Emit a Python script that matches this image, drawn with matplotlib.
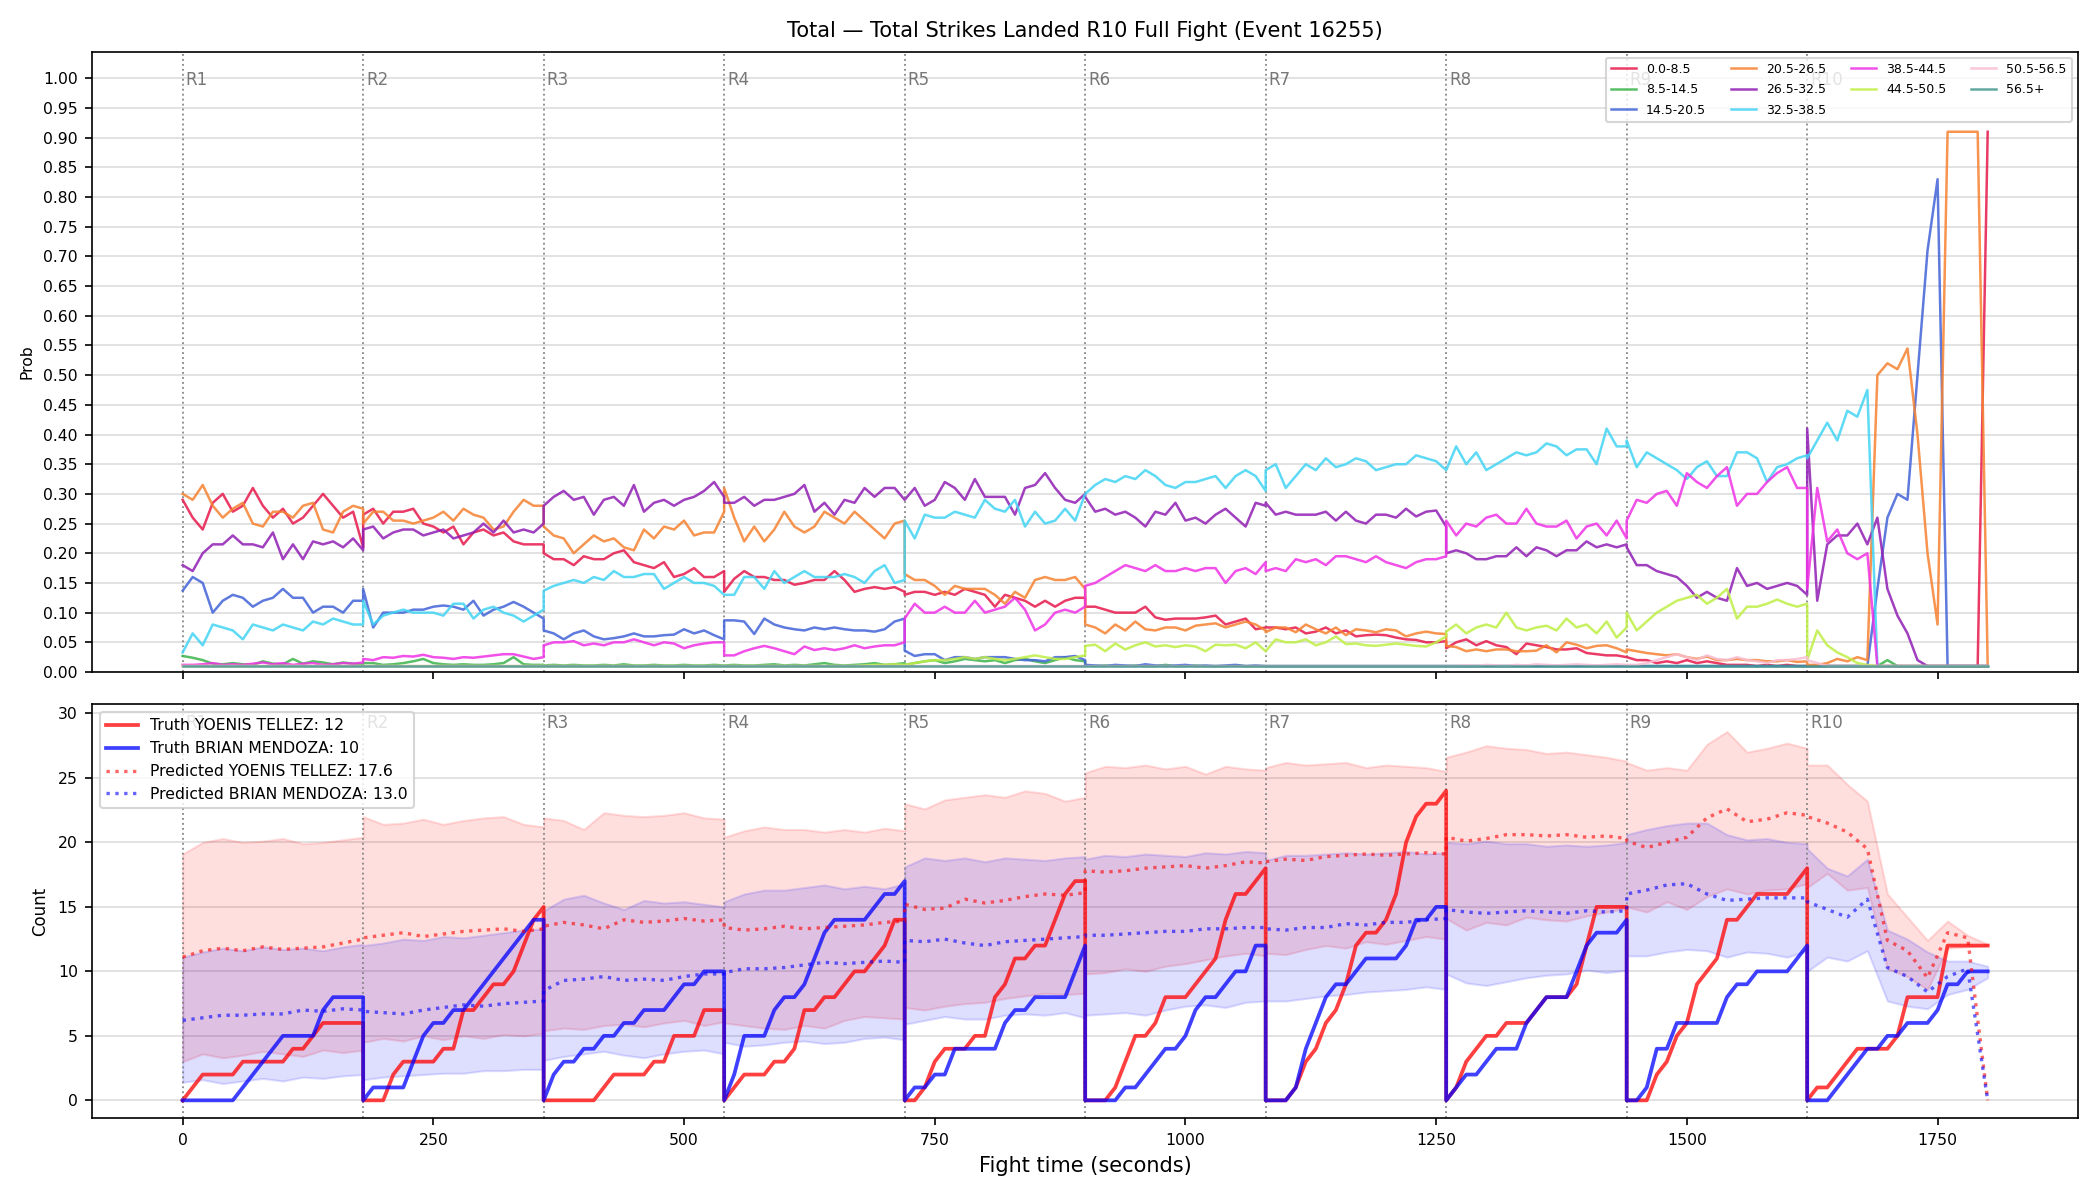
import numpy as np
import matplotlib
matplotlib.use("Agg")
import matplotlib.pyplot as plt

# rounds
round_starts = [0, 180, 360, 540, 720, 900, 1080, 1260, 1440, 1620]
round_names = ["R1", "R2", "R3", "R4", "R5", "R6", "R7", "R8", "R9", "R10"]
fine_steps = np.arange(0, 181, 10)     # top panel + truth samples inside a round
coarse_steps = np.arange(0, 181, 20)   # predicted / bands samples inside a round

F = [0.01] * 19  # flat floor row

# ---- top panel: probability per bucket, one row per round ----
p_0_8 = [
    [0.29, 0.26, 0.24, 0.285, 0.30, 0.27, 0.28, 0.31, 0.28, 0.26, 0.275, 0.25, 0.26, 0.28, 0.30, 0.28, 0.26, 0.27, 0.21],
    [0.265, 0.275, 0.25, 0.27, 0.27, 0.275, 0.25, 0.245, 0.235, 0.245, 0.215, 0.235, 0.24, 0.23, 0.235, 0.22, 0.215, 0.215, 0.215],
    [0.20, 0.19, 0.19, 0.18, 0.195, 0.19, 0.19, 0.20, 0.205, 0.185, 0.18, 0.175, 0.185, 0.16, 0.165, 0.175, 0.16, 0.16, 0.17],
    [0.135, 0.157, 0.17, 0.16, 0.16, 0.155, 0.155, 0.147, 0.15, 0.155, 0.155, 0.17, 0.155, 0.135, 0.14, 0.143, 0.14, 0.143, 0.135],
    [0.13, 0.135, 0.135, 0.13, 0.135, 0.13, 0.14, 0.135, 0.13, 0.11, 0.13, 0.125, 0.12, 0.11, 0.12, 0.11, 0.12, 0.125, 0.125],
    [0.11, 0.11, 0.105, 0.10, 0.10, 0.10, 0.11, 0.092, 0.088, 0.09, 0.09, 0.09, 0.092, 0.095, 0.08, 0.085, 0.09, 0.072, 0.075],
    [0.075, 0.075, 0.072, 0.075, 0.065, 0.068, 0.075, 0.065, 0.07, 0.06, 0.062, 0.063, 0.062, 0.058, 0.055, 0.054, 0.05, 0.05, 0.052],
    [0.04, 0.05, 0.055, 0.045, 0.052, 0.045, 0.042, 0.03, 0.048, 0.045, 0.042, 0.038, 0.038, 0.04, 0.032, 0.03, 0.028, 0.028, 0.025],
    [0.025, 0.02, 0.02, 0.015, 0.018, 0.015, 0.02, 0.015, 0.018, 0.015, 0.012, 0.012, 0.012, 0.01, 0.012, 0.01, 0.012, 0.01, 0.01],
    [0.01, 0.01, 0.01, 0.01, 0.01, 0.01, 0.01, 0.01, 0.01, 0.01, 0.01, 0.01, 0.01, 0.01, 0.01, 0.01, 0.01, 0.01, 0.91],
]
p_8_14 = [
    [0.027, 0.024, 0.02, 0.014, 0.013, 0.015, 0.013, 0.012, 0.018, 0.014, 0.013, 0.022, 0.014, 0.018, 0.016, 0.013, 0.016, 0.014, 0.013],
    [0.015, 0.015, 0.012, 0.013, 0.015, 0.018, 0.022, 0.015, 0.013, 0.012, 0.013, 0.012, 0.012, 0.013, 0.015, 0.025, 0.013, 0.012, 0.012],
    [0.011, 0.012, 0.011, 0.012, 0.011, 0.011, 0.012, 0.011, 0.013, 0.011, 0.011, 0.012, 0.011, 0.011, 0.012, 0.011, 0.011, 0.012, 0.011],
    [0.011, 0.012, 0.011, 0.011, 0.012, 0.013, 0.011, 0.012, 0.011, 0.013, 0.015, 0.012, 0.011, 0.012, 0.013, 0.015, 0.012, 0.013, 0.015],
    [0.012, 0.015, 0.018, 0.02, 0.015, 0.018, 0.022, 0.02, 0.018, 0.02, 0.015, 0.02, 0.022, 0.018, 0.015, 0.02, 0.025, 0.02, 0.018],
    [0.011, 0.01, 0.011, 0.01, 0.01, 0.011, 0.01, 0.01, 0.012, 0.01, 0.01, 0.011, 0.01, 0.01, 0.01, 0.011, 0.01, 0.01, 0.01],
    F, F, F,
    [0.01, 0.01, 0.01, 0.01, 0.01, 0.01, 0.01, 0.01, 0.02, 0.01, 0.01, 0.01, 0.01, 0.01, 0.01, 0.01, 0.01, 0.01, 0.01],
]
p_14_20 = [
    [0.137, 0.16, 0.15, 0.10, 0.12, 0.13, 0.125, 0.11, 0.12, 0.125, 0.14, 0.125, 0.125, 0.10, 0.11, 0.11, 0.10, 0.12, 0.12],
    [0.14, 0.075, 0.10, 0.10, 0.10, 0.105, 0.105, 0.11, 0.112, 0.11, 0.105, 0.12, 0.095, 0.105, 0.11, 0.118, 0.11, 0.10, 0.09],
    [0.07, 0.065, 0.055, 0.065, 0.07, 0.06, 0.055, 0.057, 0.06, 0.065, 0.06, 0.06, 0.062, 0.063, 0.072, 0.065, 0.07, 0.062, 0.055],
    [0.087, 0.087, 0.085, 0.064, 0.09, 0.08, 0.075, 0.072, 0.07, 0.075, 0.072, 0.075, 0.072, 0.07, 0.07, 0.068, 0.072, 0.085, 0.09],
    [0.036, 0.027, 0.03, 0.03, 0.02, 0.025, 0.025, 0.022, 0.025, 0.025, 0.025, 0.022, 0.02, 0.02, 0.018, 0.025, 0.025, 0.027, 0.02],
    [0.012, 0.011, 0.01, 0.012, 0.011, 0.01, 0.013, 0.011, 0.01, 0.011, 0.012, 0.01, 0.011, 0.01, 0.011, 0.012, 0.01, 0.011, 0.01],
    F, F, F,
    [0.01, 0.01, 0.01, 0.01, 0.01, 0.01, 0.01, 0.14, 0.26, 0.30, 0.29, 0.50, 0.71, 0.83, 0.01, 0.01, 0.01, 0.01, 0.01],
]
p_20_26 = [
    [0.30, 0.29, 0.315, 0.28, 0.26, 0.275, 0.285, 0.25, 0.245, 0.27, 0.27, 0.26, 0.28, 0.285, 0.24, 0.235, 0.27, 0.28, 0.275],
    [0.25, 0.27, 0.27, 0.255, 0.255, 0.25, 0.255, 0.26, 0.27, 0.255, 0.275, 0.265, 0.26, 0.24, 0.245, 0.27, 0.29, 0.28, 0.28],
    [0.245, 0.23, 0.225, 0.20, 0.215, 0.23, 0.22, 0.225, 0.21, 0.205, 0.24, 0.225, 0.245, 0.24, 0.255, 0.23, 0.235, 0.235, 0.27],
    [0.31, 0.26, 0.22, 0.245, 0.22, 0.24, 0.27, 0.245, 0.235, 0.245, 0.27, 0.26, 0.25, 0.27, 0.255, 0.24, 0.225, 0.25, 0.255],
    [0.165, 0.155, 0.155, 0.145, 0.13, 0.145, 0.14, 0.14, 0.14, 0.13, 0.115, 0.135, 0.125, 0.155, 0.16, 0.155, 0.155, 0.16, 0.14],
    [0.08, 0.075, 0.065, 0.08, 0.07, 0.085, 0.072, 0.07, 0.075, 0.075, 0.07, 0.078, 0.08, 0.082, 0.075, 0.08, 0.085, 0.08, 0.07],
    [0.067, 0.075, 0.075, 0.067, 0.08, 0.072, 0.065, 0.075, 0.062, 0.072, 0.07, 0.067, 0.072, 0.07, 0.06, 0.065, 0.068, 0.065, 0.064],
    [0.044, 0.042, 0.035, 0.038, 0.035, 0.038, 0.038, 0.035, 0.035, 0.036, 0.045, 0.033, 0.05, 0.046, 0.04, 0.044, 0.045, 0.04, 0.033],
    [0.038, 0.035, 0.032, 0.03, 0.028, 0.03, 0.025, 0.022, 0.026, 0.02, 0.02, 0.022, 0.02, 0.02, 0.018, 0.018, 0.02, 0.017, 0.018],
    [0.012, 0.012, 0.015, 0.022, 0.018, 0.025, 0.02, 0.50, 0.52, 0.51, 0.545, 0.40, 0.20, 0.08, 0.91, 0.91, 0.91, 0.91, 0.01],
]
p_26_32 = [
    [0.18, 0.17, 0.20, 0.215, 0.215, 0.23, 0.215, 0.215, 0.21, 0.235, 0.19, 0.215, 0.19, 0.22, 0.215, 0.22, 0.21, 0.225, 0.205],
    [0.24, 0.245, 0.225, 0.235, 0.24, 0.24, 0.23, 0.235, 0.24, 0.225, 0.23, 0.235, 0.25, 0.235, 0.255, 0.235, 0.24, 0.235, 0.25],
    [0.28, 0.295, 0.305, 0.29, 0.295, 0.265, 0.29, 0.295, 0.28, 0.315, 0.27, 0.285, 0.29, 0.28, 0.29, 0.295, 0.305, 0.32, 0.295],
    [0.285, 0.285, 0.295, 0.28, 0.29, 0.29, 0.295, 0.30, 0.315, 0.27, 0.285, 0.265, 0.29, 0.285, 0.31, 0.295, 0.31, 0.31, 0.29],
    [0.29, 0.31, 0.28, 0.29, 0.32, 0.31, 0.29, 0.325, 0.295, 0.295, 0.295, 0.265, 0.31, 0.315, 0.335, 0.31, 0.29, 0.285, 0.30],
    [0.295, 0.27, 0.275, 0.265, 0.27, 0.26, 0.245, 0.27, 0.265, 0.285, 0.255, 0.26, 0.25, 0.265, 0.275, 0.26, 0.245, 0.285, 0.28],
    [0.285, 0.265, 0.27, 0.265, 0.265, 0.265, 0.27, 0.255, 0.27, 0.255, 0.25, 0.265, 0.265, 0.26, 0.275, 0.262, 0.27, 0.272, 0.245],
    [0.20, 0.205, 0.20, 0.19, 0.19, 0.195, 0.195, 0.21, 0.195, 0.21, 0.205, 0.195, 0.205, 0.205, 0.22, 0.21, 0.215, 0.21, 0.215],
    [0.21, 0.18, 0.18, 0.17, 0.165, 0.16, 0.145, 0.125, 0.135, 0.125, 0.12, 0.175, 0.145, 0.15, 0.14, 0.145, 0.15, 0.145, 0.13],
    [0.41, 0.12, 0.215, 0.23, 0.23, 0.25, 0.215, 0.26, 0.14, 0.095, 0.065, 0.02, 0.01, 0.01, 0.01, 0.01, 0.01, 0.01, 0.01],
]
p_32_38 = [
    [0.033, 0.065, 0.045, 0.08, 0.075, 0.07, 0.055, 0.08, 0.075, 0.07, 0.08, 0.075, 0.07, 0.085, 0.08, 0.09, 0.085, 0.08, 0.08],
    [0.12, 0.08, 0.095, 0.10, 0.105, 0.10, 0.10, 0.10, 0.095, 0.115, 0.115, 0.09, 0.105, 0.11, 0.10, 0.095, 0.085, 0.095, 0.105],
    [0.137, 0.145, 0.15, 0.155, 0.15, 0.16, 0.155, 0.17, 0.16, 0.16, 0.165, 0.165, 0.14, 0.15, 0.16, 0.15, 0.15, 0.145, 0.13],
    [0.13, 0.13, 0.16, 0.16, 0.14, 0.17, 0.15, 0.16, 0.17, 0.16, 0.16, 0.16, 0.165, 0.16, 0.15, 0.17, 0.18, 0.15, 0.155],
    [0.255, 0.225, 0.265, 0.26, 0.26, 0.27, 0.265, 0.26, 0.29, 0.275, 0.27, 0.29, 0.245, 0.27, 0.25, 0.255, 0.275, 0.255, 0.30],
    [0.30, 0.315, 0.325, 0.32, 0.33, 0.325, 0.34, 0.33, 0.315, 0.31, 0.32, 0.32, 0.325, 0.33, 0.31, 0.33, 0.34, 0.33, 0.305],
    [0.34, 0.35, 0.31, 0.33, 0.35, 0.34, 0.36, 0.345, 0.35, 0.36, 0.355, 0.34, 0.345, 0.35, 0.35, 0.365, 0.36, 0.355, 0.34],
    [0.34, 0.38, 0.35, 0.37, 0.34, 0.35, 0.36, 0.37, 0.365, 0.37, 0.385, 0.38, 0.365, 0.375, 0.375, 0.35, 0.41, 0.38, 0.38],
    [0.39, 0.345, 0.37, 0.36, 0.35, 0.34, 0.325, 0.345, 0.355, 0.33, 0.33, 0.37, 0.37, 0.36, 0.32, 0.345, 0.35, 0.36, 0.365],
    [0.36, 0.39, 0.42, 0.39, 0.44, 0.43, 0.475, 0.01, 0.01, 0.01, 0.01, 0.01, 0.01, 0.01, 0.01, 0.01, 0.01, 0.01, 0.01],
]
p_38_44 = [
    [0.012, 0.012, 0.013, 0.015, 0.012, 0.013, 0.012, 0.014, 0.016, 0.013, 0.015, 0.012, 0.014, 0.015, 0.012, 0.013, 0.015, 0.014, 0.016],
    [0.022, 0.02, 0.025, 0.024, 0.027, 0.026, 0.029, 0.025, 0.024, 0.022, 0.025, 0.024, 0.026, 0.028, 0.03, 0.03, 0.026, 0.022, 0.025],
    [0.045, 0.05, 0.05, 0.052, 0.045, 0.048, 0.045, 0.05, 0.05, 0.055, 0.05, 0.045, 0.05, 0.048, 0.04, 0.045, 0.048, 0.05, 0.05],
    [0.028, 0.028, 0.035, 0.04, 0.044, 0.04, 0.035, 0.03, 0.043, 0.037, 0.04, 0.037, 0.04, 0.045, 0.04, 0.043, 0.045, 0.045, 0.05],
    [0.09, 0.115, 0.10, 0.10, 0.11, 0.10, 0.10, 0.12, 0.10, 0.105, 0.11, 0.125, 0.105, 0.07, 0.08, 0.10, 0.105, 0.10, 0.11],
    [0.145, 0.15, 0.16, 0.17, 0.18, 0.175, 0.17, 0.18, 0.17, 0.17, 0.175, 0.17, 0.175, 0.175, 0.15, 0.17, 0.175, 0.165, 0.185],
    [0.17, 0.175, 0.17, 0.19, 0.185, 0.19, 0.18, 0.195, 0.195, 0.19, 0.185, 0.195, 0.185, 0.18, 0.175, 0.185, 0.19, 0.19, 0.195],
    [0.255, 0.23, 0.25, 0.245, 0.26, 0.265, 0.25, 0.25, 0.275, 0.25, 0.245, 0.245, 0.255, 0.225, 0.245, 0.25, 0.23, 0.255, 0.225],
    [0.255, 0.29, 0.285, 0.30, 0.305, 0.28, 0.335, 0.32, 0.31, 0.33, 0.345, 0.28, 0.30, 0.30, 0.32, 0.335, 0.345, 0.31, 0.31],
    [0.14, 0.31, 0.22, 0.24, 0.20, 0.19, 0.20, 0.01, 0.01, 0.01, 0.01, 0.01, 0.01, 0.01, 0.01, 0.01, 0.01, 0.01, 0.01],
]
p_44_50 = [
    F, F, F,
    [0.01, 0.01, 0.01, 0.01, 0.01, 0.01, 0.01, 0.01, 0.01, 0.01, 0.01, 0.01, 0.01, 0.01, 0.011, 0.012, 0.012, 0.013, 0.012],
    [0.012, 0.015, 0.018, 0.02, 0.02, 0.022, 0.025, 0.022, 0.025, 0.022, 0.02, 0.022, 0.025, 0.028, 0.025, 0.022, 0.022, 0.025, 0.028],
    [0.044, 0.046, 0.035, 0.048, 0.038, 0.045, 0.05, 0.043, 0.045, 0.042, 0.045, 0.043, 0.035, 0.046, 0.045, 0.046, 0.04, 0.05, 0.035],
    [0.035, 0.055, 0.05, 0.05, 0.055, 0.045, 0.05, 0.06, 0.047, 0.048, 0.045, 0.044, 0.046, 0.048, 0.046, 0.044, 0.043, 0.05, 0.06],
    [0.068, 0.08, 0.065, 0.075, 0.08, 0.075, 0.10, 0.075, 0.07, 0.075, 0.078, 0.07, 0.09, 0.075, 0.08, 0.065, 0.085, 0.058, 0.075],
    [0.10, 0.07, 0.085, 0.10, 0.11, 0.12, 0.125, 0.13, 0.115, 0.125, 0.14, 0.09, 0.11, 0.11, 0.115, 0.122, 0.115, 0.11, 0.115],
    [0.02, 0.07, 0.045, 0.033, 0.025, 0.015, 0.012, 0.01, 0.01, 0.01, 0.01, 0.01, 0.01, 0.01, 0.01, 0.01, 0.01, 0.01, 0.01],
]
p_50_56 = [
    F, F, F, F, F, F, F,
    [0.01, 0.01, 0.011, 0.01, 0.012, 0.011, 0.01, 0.012, 0.011, 0.013, 0.012, 0.011, 0.012, 0.013, 0.012, 0.011, 0.012, 0.013, 0.012],
    [0.012, 0.012, 0.015, 0.02, 0.025, 0.03, 0.025, 0.02, 0.028, 0.022, 0.02, 0.025, 0.02, 0.018, 0.015, 0.02, 0.02, 0.022, 0.025],
    [0.02, 0.015, 0.01, 0.01, 0.01, 0.01, 0.01, 0.01, 0.01, 0.01, 0.01, 0.01, 0.01, 0.01, 0.01, 0.01, 0.01, 0.01, 0.01],
]
p_56_up = [F, F, F, F, F, F, F, F, F, F]

bucket_labels = ["0.0-8.5", "8.5-14.5", "14.5-20.5", "20.5-26.5", "26.5-32.5",
                 "32.5-38.5", "38.5-44.5", "44.5-50.5", "50.5-56.5", "56.5+"]
bucket_data = [p_0_8, p_8_14, p_14_20, p_20_26, p_26_32,
               p_32_38, p_38_44, p_44_50, p_50_56, p_56_up]
bucket_colors = ["#e6194b", "#3cb44b", "#4363d8", "#f58231", "#911eb4",
                 "#42d4f4", "#f032e6", "#bfef45", "#fabed4", "#469990"]

# ---- bottom panel: cumulative landed strikes per round (10 s samples) ----
truth_tellez = [
    [0, 1, 2, 2, 2, 2, 3, 3, 3, 3, 3, 4, 4, 5, 6, 6, 6, 6, 6],
    [0, 0, 0, 2, 3, 3, 3, 3, 4, 4, 7, 7, 8, 9, 9, 10, 12, 14, 15],
    [0, 0, 0, 0, 0, 0, 1, 2, 2, 2, 2, 3, 3, 5, 5, 5, 7, 7, 7],
    [0, 1, 2, 2, 2, 3, 3, 4, 7, 7, 8, 8, 9, 10, 10, 11, 12, 14, 14],
    [0, 0, 1, 3, 4, 4, 4, 5, 5, 8, 9, 11, 11, 12, 12, 14, 16, 17, 17],
    [0, 0, 0, 1, 3, 5, 5, 6, 8, 8, 8, 9, 10, 11, 14, 16, 16, 17, 18],
    [0, 0, 0, 1, 3, 4, 6, 7, 9, 12, 13, 13, 14, 16, 20, 22, 23, 23, 24],
    [0, 1, 3, 4, 5, 5, 6, 6, 6, 7, 8, 8, 8, 9, 12, 15, 15, 15, 15],
    [0, 0, 0, 2, 3, 5, 6, 9, 10, 11, 14, 14, 15, 16, 16, 16, 16, 17, 18],
    [0, 1, 1, 2, 3, 4, 4, 4, 4, 5, 8, 8, 8, 8, 12, 12, 12, 12, 12],
]
truth_mendoza = [
    [0, 0, 0, 0, 0, 0, 1, 2, 3, 4, 5, 5, 5, 5, 7, 8, 8, 8, 8],
    [0, 1, 1, 1, 1, 3, 5, 6, 6, 7, 7, 8, 9, 10, 11, 12, 13, 14, 14],
    [0, 2, 3, 3, 4, 4, 5, 5, 6, 6, 7, 7, 7, 8, 9, 9, 10, 10, 10],
    [0, 2, 5, 5, 5, 7, 8, 8, 9, 11, 13, 14, 14, 14, 14, 15, 16, 16, 17],
    [0, 1, 1, 2, 2, 4, 4, 4, 4, 4, 6, 7, 7, 8, 8, 8, 8, 10, 12],
    [0, 0, 0, 0, 1, 1, 2, 3, 4, 4, 5, 7, 8, 8, 9, 10, 10, 12, 12],
    [0, 0, 0, 1, 4, 6, 8, 9, 9, 10, 11, 11, 11, 11, 12, 14, 14, 15, 15],
    [0, 1, 2, 2, 3, 4, 4, 4, 6, 7, 8, 8, 8, 10, 12, 13, 13, 13, 14],
    [0, 0, 1, 4, 4, 6, 6, 6, 6, 6, 8, 9, 9, 10, 10, 10, 10, 11, 12],
    [0, 0, 0, 1, 2, 3, 4, 4, 5, 5, 6, 6, 6, 7, 9, 9, 10, 10, 10],
]

# predicted totals and bands (20 s samples)
pred_tellez = [
    [11.1, 11.6, 11.8, 11.6, 11.9, 11.7, 11.8, 11.9, 12.2, 12.5],
    [12.6, 12.8, 13.0, 12.7, 12.9, 13.1, 13.2, 13.3, 13.1, 13.3],
    [13.5, 13.8, 13.6, 13.3, 14.0, 13.8, 13.9, 14.1, 13.9, 14.0],
    [13.4, 13.2, 13.3, 13.5, 13.3, 13.4, 13.5, 13.6, 13.8, 13.9],
    [15.2, 14.8, 14.9, 15.6, 15.3, 15.5, 15.8, 16.0, 15.9, 16.1],
    [17.8, 17.7, 17.8, 18.0, 18.1, 18.2, 18.0, 18.2, 18.5, 18.4],
    [18.5, 18.7, 18.6, 18.9, 19.0, 19.1, 19.0, 19.1, 19.2, 19.1],
    [20.4, 20.1, 20.3, 20.6, 20.6, 20.5, 20.6, 20.4, 20.5, 20.3],
    [20.1, 19.6, 20.0, 20.4, 21.9, 22.6, 21.6, 21.8, 22.3, 22.1],
    [22.0, 21.5, 20.8, 19.5, 12.4, 11.6, 9.5, 13.0, 12.6, 0.0],
]
pred_mendoza = [
    [6.2, 6.4, 6.6, 6.6, 6.7, 6.7, 7.0, 6.9, 7.1, 7.0],
    [6.9, 6.8, 6.7, 7.0, 7.2, 7.4, 7.3, 7.5, 7.6, 7.7],
    [8.5, 9.3, 9.4, 9.6, 9.3, 9.4, 9.3, 9.6, 9.8, 9.8],
    [9.9, 10.2, 10.2, 10.3, 10.5, 10.7, 10.6, 10.7, 10.8, 10.7],
    [12.4, 12.3, 12.5, 12.2, 12.0, 12.3, 12.4, 12.5, 12.6, 12.7],
    [12.8, 12.8, 12.9, 13.0, 13.1, 13.1, 13.3, 13.3, 13.4, 13.4],
    [13.3, 13.2, 13.4, 13.4, 13.7, 13.6, 13.8, 13.8, 14.0, 14.1],
    [14.8, 14.6, 14.5, 14.6, 14.7, 14.6, 14.5, 14.7, 14.6, 14.7],
    [16.0, 16.3, 16.7, 16.8, 16.0, 15.5, 15.6, 15.7, 15.7, 15.7],
    [15.4, 14.8, 14.2, 15.6, 10.3, 9.6, 8.4, 9.6, 10.2, 0.0],
]
tellez_hi = [
    [19.1, 20.0, 20.3, 20.0, 20.1, 20.3, 19.9, 20.0, 20.2, 20.4],
    [22.0, 21.4, 21.5, 21.8, 21.4, 21.7, 21.9, 22.0, 21.4, 21.2],
    [21.9, 21.7, 21.0, 22.3, 22.1, 22.0, 22.1, 22.3, 21.9, 21.8],
    [20.4, 20.9, 21.2, 21.0, 21.0, 20.8, 21.0, 20.8, 21.1, 20.9],
    [23.0, 22.6, 23.3, 23.5, 23.7, 23.5, 24.0, 23.8, 23.2, 23.5],
    [25.4, 25.9, 25.8, 26.0, 25.7, 25.9, 25.3, 25.9, 25.7, 25.6],
    [25.8, 26.2, 26.0, 26.1, 26.2, 25.8, 26.0, 25.9, 25.8, 25.5],
    [26.6, 27.0, 27.5, 27.3, 27.2, 26.9, 27.0, 26.8, 26.6, 26.3],
    [26.2, 25.6, 25.8, 25.6, 27.6, 28.6, 27.0, 27.3, 27.7, 27.3],
    [26.0, 26.0, 24.5, 23.2, 16.0, 14.2, 12.4, 13.9, 12.8, 12.1],
]
tellez_lo = [
    [3.0, 3.6, 3.3, 3.5, 3.8, 3.6, 3.4, 3.9, 3.7, 3.9],
    [4.5, 4.8, 4.6, 5.0, 4.7, 5.0, 4.8, 5.1, 5.0, 5.2],
    [5.4, 5.6, 5.5, 5.8, 5.9, 5.7, 6.0, 6.2, 5.8, 6.1],
    [6.0, 5.8, 5.6, 5.5, 5.8, 5.6, 6.2, 6.5, 6.4, 6.3],
    [7.2, 7.0, 7.3, 7.5, 7.6, 7.9, 8.1, 8.3, 8.2, 8.3],
    [9.8, 9.9, 10.2, 10.0, 10.4, 10.6, 10.9, 11.2, 11.4, 11.2],
    [11.4, 11.3, 11.7, 12.0, 11.8, 12.3, 12.1, 12.4, 12.7, 12.5],
    [14.1, 13.2, 13.8, 13.6, 14.2, 14.0, 13.9, 14.3, 14.6, 14.9],
    [15.0, 14.6, 15.4, 14.8, 15.8, 16.4, 16.0, 16.3, 16.4, 16.8],
    [16.5, 17.6, 16.3, 16.5, 10.2, 9.6, 8.6, 11.8, 11.9, 12.0],
]
mendoza_hi = [
    [11.1, 11.5, 11.8, 11.6, 11.9, 11.7, 11.8, 11.6, 11.9, 12.1],
    [12.0, 12.2, 12.5, 12.4, 12.7, 12.6, 12.8, 13.0, 13.2, 13.3],
    [14.7, 15.6, 15.9, 15.3, 14.8, 15.5, 15.3, 15.4, 15.2, 15.0],
    [15.4, 16.0, 16.3, 16.3, 16.5, 16.7, 16.4, 16.6, 16.4, 16.8],
    [18.1, 18.8, 18.6, 18.8, 18.5, 18.8, 18.7, 18.6, 18.8, 18.9],
    [18.7, 19.0, 18.9, 19.1, 19.0, 18.9, 19.2, 19.1, 19.3, 19.2],
    [18.6, 19.0, 19.0, 19.1, 19.2, 19.1, 19.2, 19.3, 19.1, 19.2],
    [20.0, 19.9, 20.1, 19.9, 19.9, 19.7, 19.8, 19.7, 19.8, 20.0],
    [20.6, 21.0, 21.3, 21.5, 21.5, 20.6, 20.2, 20.3, 20.0, 19.9],
    [19.5, 18.0, 17.4, 18.7, 13.2, 12.5, 11.5, 10.8, 10.8, 10.4],
]
mendoza_lo = [
    [1.4, 1.6, 1.3, 1.5, 1.7, 1.5, 1.8, 1.7, 1.9, 2.0],
    [1.6, 1.8, 1.9, 2.0, 2.1, 2.1, 2.3, 2.3, 2.4, 2.4],
    [3.1, 3.4, 3.6, 3.8, 3.5, 3.3, 3.6, 3.8, 3.9, 3.6],
    [4.5, 4.2, 4.3, 4.5, 4.6, 4.4, 4.5, 4.8, 4.9, 4.7],
    [5.9, 6.2, 6.5, 6.3, 6.3, 6.6, 6.7, 6.6, 6.8, 6.4],
    [6.6, 6.7, 6.8, 6.6, 7.0, 7.3, 7.4, 7.2, 7.6, 7.7],
    [7.7, 7.7, 7.9, 8.1, 8.2, 8.4, 8.5, 8.6, 8.8, 8.6],
    [9.8, 9.1, 8.9, 9.2, 9.5, 9.7, 9.8, 10.1, 9.9, 10.1],
    [11.2, 11.2, 11.5, 11.7, 11.6, 11.1, 11.5, 11.4, 11.1, 11.6],
    [10.0, 11.1, 10.8, 11.6, 7.7, 7.3, 7.1, 8.2, 8.6, 9.5],
]

fighter_red = "YOENIS TELLEZ"
fighter_blue = "BRIAN MENDOZA"
truth_total_red, truth_total_blue = 12, 10
pred_total_red, pred_total_blue = 17.6, 13.0


def flat(rows):
    return np.concatenate([np.asarray(r, dtype=float) for r in rows])


t_fine = np.concatenate([s + fine_steps for s in round_starts])
t_coarse = np.concatenate([s + coarse_steps for s in round_starts])

fig = plt.figure(figsize=(14, 8), dpi=150)
ax1 = fig.add_axes([0.044, 0.44, 0.9455, 0.517])
ax2 = fig.add_axes([0.044, 0.068, 0.9455, 0.345], sharex=ax1)

# top panel
for lab, rows, col in zip(bucket_labels, bucket_data, bucket_colors):
    ax1.plot(t_fine, flat(rows), color=col, lw=1.2, alpha=0.85, label=lab)

ax1.set_ylim(0, 1.045)
ax1.set_yticks(np.arange(0, 1.0001, 0.05))
ax1.set_yticklabels([f"{v:.2f}" for v in np.arange(0, 1.0001, 0.05)])
ax1.set_ylabel("Prob", fontsize=7.5)
ax1.grid(axis="y", color="#dddddd", lw=0.8)
ax1.set_axisbelow(True)
ax1.legend(loc="upper right", ncol=4, fontsize=6.0, labelspacing=0.6, framealpha=0.8)
ax1.tick_params(labelbottom=False, labelsize=7.5)
ax1.set_title("Total \u2014 Total Strikes Landed R10 Full Fight (Event 16255)",
              fontsize=10, pad=7)

# bottom panel
ax2.fill_between(t_coarse, flat(tellez_lo), flat(tellez_hi), color="red", alpha=0.13)
ax2.fill_between(t_coarse, flat(mendoza_lo), flat(mendoza_hi), color="blue", alpha=0.13)
ax2.plot(t_fine, flat(truth_tellez), color="red", lw=1.8, alpha=0.75,
         label=f"Truth {fighter_red}: {truth_total_red}")
ax2.plot(t_fine, flat(truth_mendoza), color="blue", lw=1.8, alpha=0.75,
         label=f"Truth {fighter_blue}: {truth_total_blue}")
ax2.plot(t_coarse, flat(pred_tellez), color="red", lw=1.6, ls=":", alpha=0.6,
         label=f"Predicted {fighter_red}: {pred_total_red:.1f}")
ax2.plot(t_coarse, flat(pred_mendoza), color="blue", lw=1.6, ls=":", alpha=0.6,
         label=f"Predicted {fighter_blue}: {pred_total_blue:.1f}")

ax2.set_ylim(-1.4, 30.7)
ax2.set_ylabel("Count", fontsize=8)
ax2.set_xlabel("Fight time (seconds)", fontsize=10)
ax2.grid(axis="y", color="#dddddd", lw=0.8)
ax2.set_axisbelow(True)
ax2.tick_params(labelsize=7.5)
ax2.legend(loc="upper left", fontsize=7.5, framealpha=0.8)

ax1.set_xlim(-90, 1890)
ax2.set_xticks([0, 250, 500, 750, 1000, 1250, 1500, 1750])

# round markers
for ax in (ax1, ax2):
    for s, name in zip(round_starts, round_names):
        ax.axvline(s, color="gray", ls=":", lw=0.9, alpha=0.9, zorder=1)
        ax.text(s + 3, 0.955, name, transform=ax.get_xaxis_transform(),
                fontsize=8, color="dimgray", alpha=0.9, va="center", ha="left", zorder=1)

fig.savefig("out.png", dpi=150)
